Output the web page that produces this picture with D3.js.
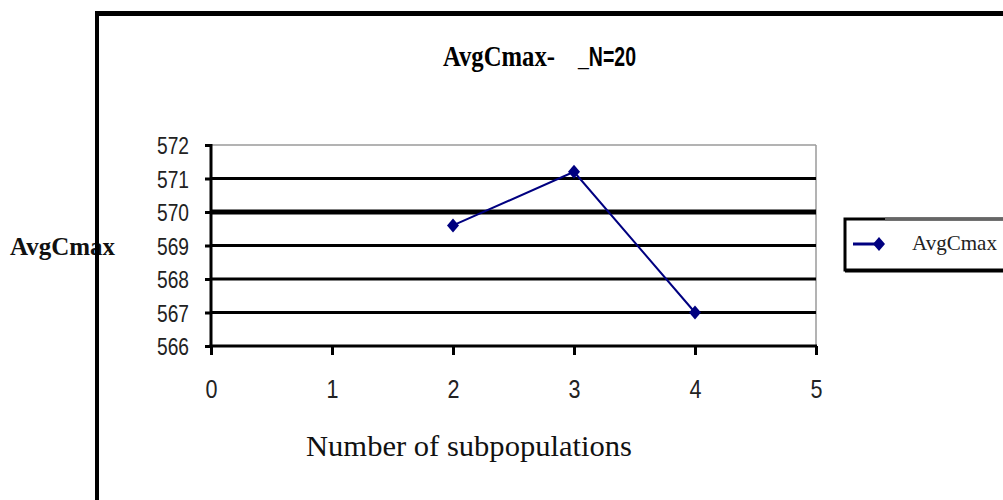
<!DOCTYPE html>
<html>
<head>
<meta charset="utf-8">
<script src="https://cdn.jsdelivr.net/npm/d3@7"></script>
<style>
  html, body { margin: 0; padding: 0; background: #fff; }
  svg { display: block; }
</style>
</head>
<body>
<svg id="chart" width="1003" height="500"></svg>
<script>
// Average Cmax by number of subpopulations (N = 20)
const subpopulations = [2, 3, 4];
const avgCmax = [569.6, 571.2, 567.0];
const xTickValues = [0, 1, 2, 3, 4, 5];
const yTickValues = [566, 567, 568, 569, 570, 571, 572];
const seriesName = "AvgCmax";
const titleMain = "AvgCmax-";
const titleSuffix = "_N=20";
const xTitle = "Number of subpopulations";
const yTitle = "AvgCmax";

const svg = d3.select("#chart");
const navy = "#000080";
const narrow = "'Liberation Sans Narrow', 'Liberation Sans', Arial, sans-serif";
const serif = "'Liberation Serif', 'DejaVu Serif', serif";

const plot = { left: 211, right: 816, top: 145, bottom: 346 };
const x = d3.scaleLinear().domain([0, 5]).range([plot.left, plot.right]);
const y = d3.scaleLinear().domain([566, 572]).range([plot.bottom, plot.top]);

// Title
svg.append("text")
  .attr("x", 443).attr("y", 66)
  .attr("font-family", serif).attr("font-weight", "bold").attr("font-size", 29)
  .attr("textLength", 112).attr("lengthAdjust", "spacingAndGlyphs")
  .text(titleMain);
svg.append("text")
  .attr("x", 578).attr("y", 66)
  .attr("font-family", narrow).attr("font-weight", "bold").attr("font-size", 27)
  .attr("textLength", 58).attr("lengthAdjust", "spacingAndGlyphs")
  .text(titleSuffix);

// Y axis title (the outer frame line crosses it)
svg.append("text")
  .attr("x", 10).attr("y", 255)
  .attr("font-family", serif).attr("font-weight", "bold").attr("font-size", 26)
  .attr("textLength", 105).attr("lengthAdjust", "spacingAndGlyphs")
  .attr("fill", "#111")
  .text(yTitle);

// Outer frame
svg.append("line").attr("x1", 97).attr("x2", 97).attr("y1", 11).attr("y2", 500)
  .attr("stroke", "#000").attr("stroke-width", 4);
svg.append("line").attr("x1", 95).attr("x2", 1003).attr("y1", 13.5).attr("y2", 13.5)
  .attr("stroke", "#000").attr("stroke-width", 5);

// Plot border (top and right, light grey)
svg.append("line").attr("x1", plot.left).attr("x2", plot.right)
  .attr("y1", plot.top).attr("y2", plot.top)
  .attr("stroke", "#9a9a9a").attr("stroke-width", 1.5);
svg.append("line").attr("x1", plot.right).attr("x2", plot.right)
  .attr("y1", plot.top).attr("y2", plot.bottom)
  .attr("stroke", "#9a9a9a").attr("stroke-width", 1.5);

// Horizontal gridlines
svg.append("g").selectAll("line")
  .data(yTickValues.filter(v => v > 566 && v < 572))
  .join("line")
  .attr("x1", plot.left).attr("x2", plot.right)
  .attr("y1", d => y(d)).attr("y2", d => y(d))
  .attr("stroke", "#000")
  .attr("stroke-width", d => d === 570 ? 5 : 3);

// Y axis
const yAxis = svg.append("g")
  .attr("transform", `translate(${plot.left},0)`)
  .call(d3.axisLeft(y).tickValues(yTickValues).tickSize(6).tickPadding(16).tickFormat(d3.format("d")));
yAxis.select(".domain").attr("stroke", "#000").attr("stroke-width", 3)
  .attr("d", `M0,${plot.top - 1}V${plot.bottom + 1}`);
yAxis.selectAll(".tick line").attr("stroke", "#000").attr("stroke-width", 3);
yAxis.selectAll(".tick text")
  .attr("font-family", narrow).attr("font-size", 24).attr("fill", "#222")
  .attr("dy", "0.36em")
  .attr("textLength", 32).attr("lengthAdjust", "spacingAndGlyphs");

// X axis
const xAxis = svg.append("g")
  .attr("transform", `translate(0,${plot.bottom})`)
  .call(d3.axisBottom(x).tickValues(xTickValues).tickSize(9).tickPadding(25).tickFormat(d3.format("d")));
xAxis.select(".domain").attr("stroke", "#000").attr("stroke-width", 3)
  .attr("d", `M${plot.left - 1.5},0H${plot.right + 1}`);
xAxis.selectAll(".tick line").attr("stroke", "#000").attr("stroke-width", 3);
xAxis.selectAll(".tick text")
  .attr("font-family", narrow).attr("font-size", 26).attr("fill", "#222")
  .attr("textLength", 12).attr("lengthAdjust", "spacingAndGlyphs");

// X axis title
svg.append("text")
  .attr("x", 306).attr("y", 456)
  .attr("font-family", serif).attr("font-size", 29)
  .attr("textLength", 326).attr("lengthAdjust", "spacingAndGlyphs")
  .attr("fill", "#111")
  .text(xTitle);

// Series line and diamond markers
const points = subpopulations.map((s, i) => ({ s, v: avgCmax[i] }));
svg.append("path")
  .datum(points)
  .attr("fill", "none").attr("stroke", navy).attr("stroke-width", 2)
  .attr("d", d3.line().x(d => x(d.s)).y(d => y(d.v)));

const diamond = "M0,-7L6,0L0,7L-6,0Z";
svg.append("g").selectAll("path")
  .data(points)
  .join("path")
  .attr("transform", d => `translate(${x(d.s)},${y(d.v)})`)
  .attr("d", diamond)
  .attr("fill", navy);

// Legend
const lg = svg.append("g");
lg.append("rect").attr("x", 845).attr("y", 219).attr("width", 170).attr("height", 51)
  .attr("fill", "#fff").attr("stroke", "#000").attr("stroke-width", 3);
lg.append("line").attr("x1", 885).attr("x2", 1003).attr("y1", 219).attr("y2", 219)
  .attr("stroke", "#666").attr("stroke-width", 3);
lg.append("line").attr("x1", 845).attr("x2", 1003).attr("y1", 271).attr("y2", 271)
  .attr("stroke", "#000").attr("stroke-width", 3);
lg.append("line").attr("x1", 853).attr("x2", 880).attr("y1", 244).attr("y2", 244)
  .attr("stroke", navy).attr("stroke-width", 3);
lg.append("path").attr("transform", "translate(879,244)").attr("d", diamond).attr("fill", navy);
lg.append("text")
  .attr("x", 912).attr("y", 250)
  .attr("font-family", serif).attr("font-size", 21)
  .attr("textLength", 85).attr("lengthAdjust", "spacingAndGlyphs")
  .attr("fill", "#222")
  .text(seriesName);
</script>
</body>
</html>
